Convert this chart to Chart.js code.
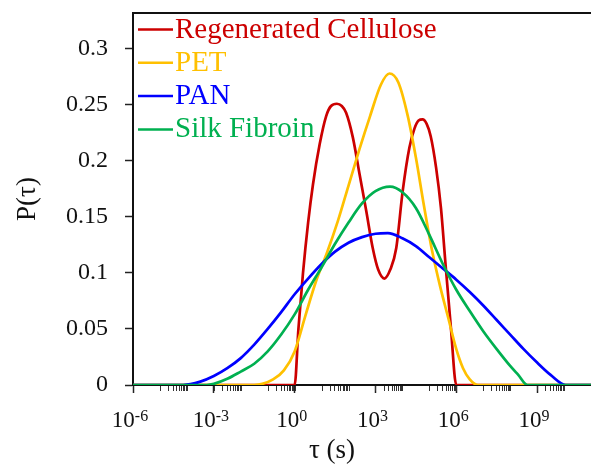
<!DOCTYPE html>
<html>
<head>
<meta charset="utf-8">
<script src="https://cdn.jsdelivr.net/npm/chart.js@4.4.0/dist/chart.umd.min.js"></script>
<style>
    html, body { margin: 0; padding: 0; background: #fff; }
    #wrap { position: relative; width: 591px; height: 464px; }
</style>
</head>
<body>
<div id="wrap"><canvas id="chart"></canvas></div>
<script>
// Series labels and colours
const seriesLabels = ['Regenerated Cellulose', 'PET', 'PAN', 'Silk Fibroin'];
const seriesColors = ['#CC0000', '#FFC000', '#0000FF', '#00B050'];

// Values: log10(tau) positions and P(tau)
const celluloseExp = [-6, 0, 0.14, 0.31, 0.5, 0.68, 0.93, 1.17, 1.35, 1.57, 1.75, 1.91, 2.16, 2.41, 2.66, 2.9, 3.1, 3.33, 3.55, 3.77, 4.01, 4.26, 4.45, 4.6, 4.75, 4.9, 5.05, 5.25, 5.43, 5.6, 5.8, 6.0, 11];
const celluloseP   = [0, 0, 0.05, 0.10, 0.145, 0.179, 0.215, 0.240, 0.249, 0.251, 0.249, 0.243, 0.221, 0.188, 0.155, 0.122, 0.103, 0.095, 0.103, 0.122, 0.173, 0.212, 0.229, 0.236, 0.237, 0.233, 0.222, 0.194, 0.158, 0.108, 0.051, 0, 0];

const petExp = [-6, -1.5, -1.2, -0.8, -0.4, 0, 0.4, 0.8, 1.2, 1.6, 2.0, 2.4, 2.8, 3.2, 3.52, 3.85, 4.2, 4.5, 4.8, 5.1, 5.4, 5.7, 6.0, 6.25, 6.5, 6.8, 11];
const petP   = [0, 0, 0.001, 0.005, 0.013, 0.03, 0.062, 0.093, 0.118, 0.146, 0.178, 0.21, 0.24, 0.268, 0.278, 0.27, 0.24, 0.203, 0.16, 0.12, 0.088, 0.06, 0.032, 0.015, 0.005, 0, 0];

const panExp = [-6, -4.14, -3.5, -3, -2.5, -2, -1.5, -1, -0.5, 0, 0.5, 1, 1.5, 2, 2.5, 3, 3.46, 4, 4.5, 5, 5.5, 6, 6.5, 7, 7.5, 8, 8.5, 9, 9.5, 10.06, 11];
const panP   = [0, 0, 0.003, 0.008, 0.015, 0.024, 0.036, 0.050, 0.065, 0.081, 0.095, 0.108, 0.119, 0.127, 0.132, 0.135, 0.1355, 0.131, 0.124, 0.114, 0.104, 0.094, 0.083, 0.071, 0.058, 0.045, 0.032, 0.020, 0.009, 0, 0];

const silkExp = [-6, -3.27, -3, -2.5, -2, -1.5, -1, -0.5, 0, 0.5, 1, 1.5, 2, 2.5, 3, 3.54, 4, 4.5, 5, 5.5, 6, 6.5, 7, 7.5, 8, 8.3, 8.64, 11];
const silkP   = [0, 0, 0.001, 0.0055, 0.012, 0.019, 0.030, 0.045, 0.063, 0.085, 0.105, 0.126, 0.145, 0.162, 0.173, 0.177, 0.172, 0.158, 0.134, 0.108, 0.085, 0.066, 0.048, 0.032, 0.017, 0.009, 0, 0];

// Axis ticks
const xMajorExps = [-6, -3, 0, 3, 6, 9];
const xMinorExps = [-5, -3, -1, 1, 3, 5, 7, 9];
const yTicks = [0, 0.05, 0.1, 0.15, 0.2, 0.25, 0.3];

const seriesExp = [celluloseExp, petExp, panExp, silkExp];
const seriesP = [celluloseP, petP, panP, silkP];

const FONT = "'Liberation Serif', 'Times New Roman', serif";

// Build point lists for the library
function toPoints(exps, vals) {
    return exps.map((e, i) => ({ x: Math.pow(10, e), y: vals[i] }));
}

// Extra drawing: top frame, minor ticks, x labels with superscripts, x title, legend
const extrasPlugin = {
    id: 'extras',
    afterDraw(chart) {
        const ctx = chart.ctx;
        const area = chart.chartArea;
        const xs = chart.scales.x;
        ctx.save();

        // top frame line
        ctx.strokeStyle = '#111';
        ctx.lineWidth = 2;
        ctx.beginPath();
        ctx.moveTo(area.left - 1, area.top);
        ctx.lineTo(area.right, area.top);
        ctx.stroke();

        // minor ticks
        ctx.lineWidth = 1;
        ctx.strokeStyle = '#333';
        xMinorExps.forEach(m => {
            for (let k = 1; k <= 10; k++) {
                const px = Math.round(xs.getPixelForValue(k * Math.pow(10, m))) + 0.5;
                if (px < area.left || px > area.right) continue;
                ctx.beginPath();
                ctx.moveTo(px, area.bottom + 1);
                ctx.lineTo(px, area.bottom + 6);
                ctx.stroke();
            }
        });

        // x tick labels 10^n
        ctx.fillStyle = '#111';
        ctx.textBaseline = 'alphabetic';
        ctx.textAlign = 'left';
        xMajorExps.forEach(e => {
            const px = xs.getPixelForValue(Math.pow(10, e));
            ctx.font = '23px ' + FONT;
            const w1 = ctx.measureText('10').width;
            ctx.font = '16px ' + FONT;
            const sup = String(e);
            const w2 = ctx.measureText(sup).width;
            const start = px - 3 - (w1 + w2) / 2;
            ctx.font = '23px ' + FONT;
            ctx.fillText('10', start, 427);
            ctx.font = '16px ' + FONT;
            ctx.fillText(sup, start + w1, 421);
        });

        // x axis title
        ctx.font = '27px ' + FONT;
        ctx.textAlign = 'center';
        ctx.fillText('τ (s)', 332, 458);

        // legend
        ctx.textAlign = 'left';
        ctx.font = '29px ' + FONT;
        seriesLabels.forEach((label, i) => {
            const ly = 29.5 + i * 33.3;
            ctx.strokeStyle = seriesColors[i];
            ctx.lineWidth = 2.5;
            ctx.beginPath();
            ctx.moveTo(138, ly);
            ctx.lineTo(173, ly);
            ctx.stroke();
            ctx.fillStyle = seriesColors[i];
            ctx.fillText(label, 175, ly + 8);
        });

        ctx.restore();
    }
};

function noPadding(s) {
    s.paddingTop = 0;
    s.paddingBottom = 0;
    s.paddingLeft = 0;
    s.paddingRight = 0;
}

const ctx = document.getElementById('chart').getContext('2d');
const chart = new Chart(ctx, {
    type: 'line',
    data: {
        datasets: seriesLabels.map((label, i) => ({
            label: label,
            data: toPoints(seriesExp[i], seriesP[i]),
            borderColor: seriesColors[i],
            backgroundColor: seriesColors[i],
            borderWidth: 2.7,
            pointRadius: 0,
            cubicInterpolationMode: 'monotone',
            fill: false,
            order: seriesLabels.length - 1 - i
        }))
    },
    options: {
        responsive: true,
        maintainAspectRatio: false,
        animation: false,
        layout: { padding: { top: 13, right: 0, left: 0, bottom: 0 } },
        plugins: {
            legend: { display: false },
            tooltip: { enabled: false }
        },
        scales: {
            x: {
                type: 'logarithmic',
                min: 1e-6,
                max: 1e11,
                afterBuildTicks: s => { s.ticks = xMajorExps.map(e => ({ value: Math.pow(10, e) })); },
                afterFit: s => { s.height = 79; noPadding(s); },
                ticks: { display: false },
                grid: {
                    display: true,
                    drawOnChartArea: false,
                    drawTicks: true,
                    tickLength: 8,
                    tickWidth: 1.5,
                    tickColor: '#222'
                },
                border: { display: true, color: '#111', width: 2 }
            },
            y: {
                min: 0,
                max: 0.332,
                afterBuildTicks: s => { s.ticks = yTicks.map(v => ({ value: v })); },
                afterFit: s => { s.width = 133; noPadding(s); },
                ticks: {
                    color: '#111',
                    padding: 17,
                    font: { family: FONT, size: 24 },
                    callback: v => String(v)
                },
                grid: {
                    display: true,
                    drawOnChartArea: false,
                    drawTicks: true,
                    tickLength: 8,
                    tickWidth: 1.5,
                    tickColor: '#222'
                },
                border: { display: true, color: '#111', width: 2 },
                title: {
                    display: true,
                    text: 'P(τ)',
                    color: '#111',
                    font: { family: FONT, size: 27 },
                    padding: { top: 12, bottom: 0 }
                }
            }
        }
    },
    plugins: [extrasPlugin]
});
</script>
</body>
</html>
